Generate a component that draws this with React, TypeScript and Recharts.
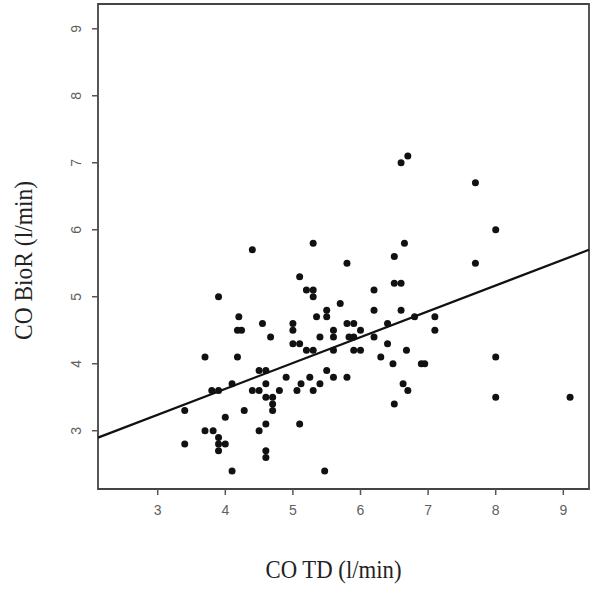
import React from 'react';
import { ScatterChart, Scatter, XAxis, YAxis, ReferenceLine, ReferenceArea } from 'recharts';

// Cardiac output by thermodilution (x) vs. bioreactance (y), l/min
const coTD = [
  6.7, 6.6, 7.7, 8.0, 5.3, 6.65, 4.4, 6.5, 5.8, 7.7,
  5.1, 6.5, 6.6, 5.2, 5.3, 6.2, 5.3, 3.9, 5.7, 5.5,
  6.2, 6.6, 4.2, 5.35, 5.5, 6.8, 7.1, 4.55, 5.0, 5.8,
  5.9, 6.4, 4.18, 4.24, 5.0, 5.6, 6.0, 7.1, 4.67, 5.4,
  5.6, 5.83, 5.9, 6.2, 5.0, 5.1, 6.4, 5.2, 5.3, 5.6,
  5.9, 6.0, 6.68, 3.7, 4.18, 6.3, 8.0, 6.48, 6.9, 6.95,
  4.5, 4.6, 5.5, 4.9, 5.25, 5.6, 5.8, 4.1, 4.6, 5.12,
  5.4, 6.63, 3.8, 3.9, 4.4, 4.5, 4.8, 5.06, 5.3, 6.7,
  4.6, 4.7, 8.0, 9.1, 4.7, 6.5, 3.4, 4.28, 4.7, 4.0,
  4.6, 5.1, 3.7, 3.82, 4.5, 3.9, 3.4, 3.9, 4.0, 3.9,
  4.6, 4.6, 4.1, 5.47,
];
const coBioR = [
  7.1, 7.0, 6.7, 6.0, 5.8, 5.8, 5.7, 5.6, 5.5, 5.5,
  5.3, 5.2, 5.2, 5.1, 5.1, 5.1, 5.0, 5.0, 4.9, 4.8,
  4.8, 4.8, 4.7, 4.7, 4.7, 4.7, 4.7, 4.6, 4.6, 4.6,
  4.6, 4.6, 4.5, 4.5, 4.5, 4.5, 4.5, 4.5, 4.4, 4.4,
  4.4, 4.4, 4.4, 4.4, 4.3, 4.3, 4.3, 4.2, 4.2, 4.2,
  4.2, 4.2, 4.2, 4.1, 4.1, 4.1, 4.1, 4.0, 4.0, 4.0,
  3.9, 3.9, 3.9, 3.8, 3.8, 3.8, 3.8, 3.7, 3.7, 3.7,
  3.7, 3.7, 3.6, 3.6, 3.6, 3.6, 3.6, 3.6, 3.6, 3.6,
  3.5, 3.5, 3.5, 3.5, 3.4, 3.4, 3.3, 3.3, 3.3, 3.2,
  3.1, 3.1, 3.0, 3.0, 3.0, 2.9, 2.8, 2.8, 2.8, 2.7,
  2.7, 2.6, 2.4, 2.4,
];

const xTicks = [3, 4, 5, 6, 7, 8, 9];
const yTicks = [3, 4, 5, 6, 7, 8, 9];
const xDomain: [number, number] = [2.117, 9.38];
const yDomain: [number, number] = [2.13, 9.37];

// Least-squares fit line
const fitIntercept = 2.08;
const fitSlope = 0.386;

const xTitle = 'CO TD (l/min)';
const yTitle = 'CO BioR (l/min)';

const points = coTD.map((x, i) => ({ x, y: coBioR[i] }));
const fitSegment = xDomain.map((x) => ({ x, y: fitIntercept + fitSlope * x }));

const TICK_FONT = '"Liberation Sans", Arial, sans-serif';
const TITLE_FONT = '"Liberation Serif", "Times New Roman", serif';
const TICK_COLOR = '#606060';

const Dot = (props: any) => <circle cx={props.cx} cy={props.cy} r={3.5} fill="#111" />;

const YTick = (props: any) => {
  const { x, y, payload } = props;
  const tx = x - 8.5;
  return (
    <text
      x={tx}
      y={y}
      transform={`rotate(-90, ${tx}, ${y})`}
      textAnchor="middle"
      fill={TICK_COLOR}
      fontSize={14}
      fontFamily={TICK_FONT}
    >
      {payload.value}
    </text>
  );
};

const XTitle = (props: any) => {
  const vb = props.viewBox;
  return (
    <text
      x={vb.x + vb.width / 2 - 10}
      y={vb.y + 89}
      textAnchor="middle"
      fill="#222"
      fontSize={25}
      textLength={136}
      lengthAdjust="spacingAndGlyphs"
      fontFamily={TITLE_FONT}
    >
      {xTitle}
    </text>
  );
};

const YTitle = (props: any) => {
  const vb = props.viewBox;
  const cx = vb.x - 6;
  const cy = vb.y + vb.height / 2 + 14;
  return (
    <text
      x={cx}
      y={cy}
      transform={`rotate(-90, ${cx}, ${cy})`}
      textAnchor="middle"
      fill="#222"
      fontSize={25}
      textLength={159}
      lengthAdjust="spacingAndGlyphs"
      fontFamily={TITLE_FONT}
    >
      {yTitle}
    </text>
  );
};

export default function App() {
  return (
    <div style={{ position: 'absolute', left: 0, top: 0, background: '#fff' }}>
      <ScatterChart width={604} height={595} margin={{ top: 4, right: 15, bottom: 46, left: 38 }}>
        <XAxis
          type="number"
          dataKey="x"
          domain={xDomain}
          ticks={xTicks}
          allowDataOverflow
          axisLine={false}
          tickLine={{ stroke: '#555', strokeWidth: 1.5 }}
          tickSize={6}
          tickMargin={10}
          height={60}
          tick={{ fill: TICK_COLOR, fontSize: 14, fontFamily: TICK_FONT }}
          label={XTitle}
        />
        <YAxis
          type="number"
          dataKey="y"
          domain={yDomain}
          ticks={yTicks}
          allowDataOverflow
          axisLine={false}
          tickLine={{ stroke: '#555', strokeWidth: 1.5 }}
          tickSize={6}
          tickMargin={2}
          width={60}
          tick={YTick}
          label={YTitle}
        />
        <ReferenceArea
          x1={xDomain[0]}
          x2={xDomain[1]}
          y1={yDomain[0]}
          y2={yDomain[1]}
          fill="#fff"
          fillOpacity={0}
          stroke="#444"
          strokeWidth={1.8}
          ifOverflow="visible"
        />
        <ReferenceLine
          segment={fitSegment}
          stroke="#111"
          strokeWidth={2.2}
          ifOverflow="visible"
        />
        <Scatter data={points} shape={Dot} isAnimationActive={false} />
      </ScatterChart>
    </div>
  );
}
